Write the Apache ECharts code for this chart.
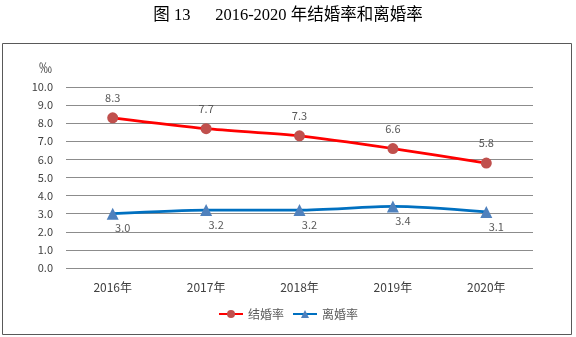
<!DOCTYPE html>
<html><head><meta charset="utf-8">
<script src="https://cdn.jsdelivr.net/npm/echarts@6/dist/echarts.min.js"></script>
<style>html,body{margin:0;padding:0;background:#fff}#c{width:576px;height:337px}</style>
</head><body><div id="c"></div>
<script>
var categories = ['2016年','2017年','2018年','2019年','2020年'];
var marriageRate = [8.3, 7.7, 7.3, 6.6, 5.8];
var divorceRate = [3.0, 3.2, 3.2, 3.4, 3.1];
var yTicks = {min: 0, max: 10, interval: 1};

var chart = echarts.init(document.getElementById('c'), null, {renderer: 'canvas'});
var font = '"Noto Sans CJK SC", "Noto Sans", sans-serif';
chart.setOption({
  animation: false,
  backgroundColor: '#fff',
  title: {
    text: '图 13      2016-2020 年结婚率和离婚率',
    left: 'center', top: 2,
    textStyle: {fontFamily: '"Liberation Serif", "Noto Sans CJK SC", serif', fontSize: 16.5, fontWeight: 'normal', color: '#000'}
  },
  graphic: [{
    type: 'rect', shape: {x: 2.5, y: 43.5, width: 569, height: 291},
    style: {fill: 'none', stroke: '#595959', lineWidth: 1}, silent: true, z: -1
  }],
  grid: {left: 66, right: 43, top: 87, bottom: 69},
  legend: {
    bottom: 12, left: 'center', itemGap: 8, itemWidth: 24, itemHeight: 10,
    textStyle: {fontFamily: font, fontSize: 12, color: '#595959'},
    data: ['结婚率', '离婚率']
  },
  xAxis: {
    type: 'category', data: categories, boundaryGap: true,
    axisLine: {show: false}, axisTick: {show: false},
    axisLabel: {fontFamily: font, fontSize: 12, color: '#404040', margin: 13}
  },
  yAxis: {
    type: 'value', min: yTicks.min, max: yTicks.max, interval: yTicks.interval,
    name: '‰', nameLocation: 'end', nameGap: 13,
    nameTextStyle: {fontFamily: font, fontSize: 13, color: '#404040', align: 'right', padding: [0, 14, 0, 0]},
    axisLine: {show: false}, axisTick: {show: false},
    axisLabel: {fontFamily: font, fontSize: 11, color: '#404040', margin: 13, formatter: function(v){return v.toFixed(1);}},
    splitLine: {lineStyle: {color: '#8c8c8c', width: 1}}
  },
  series: [{
    name: '结婚率', type: 'line', data: marriageRate, smooth: 0.25,
    symbol: 'circle', symbolSize: 11,
    lineStyle: {color: '#ff0000', width: 2.75},
    itemStyle: {color: '#c0504d'},
    label: {show: true, position: 'top', distance: 9, fontFamily: font, fontSize: 11, color: '#595959', formatter: function(p){return p.value.toFixed(1);}}
  }, {
    name: '离婚率', type: 'line', data: divorceRate, smooth: 0.25,
    symbol: 'triangle', symbolSize: 12,
    lineStyle: {color: '#0070c0', width: 2.75},
    itemStyle: {color: '#4f81bd'},
    label: {show: true, position: 'bottom', distance: 3, offset: [10, 0], fontFamily: font, fontSize: 11, color: '#595959', formatter: function(p){return p.value.toFixed(1);}}
  }]
});
</script></body></html>
